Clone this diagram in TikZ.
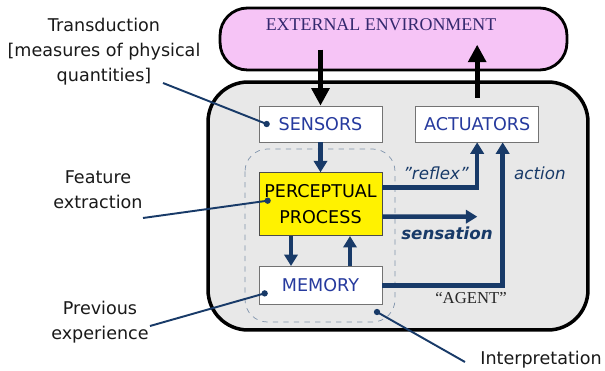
\documentclass[tikz,border=0pt]{standalone}
\usepackage{fontspec}
\setmainfont{DejaVu Sans}
\newfontfamily\envserif{Liberation Serif}
\usetikzlibrary{arrows.meta, positioning, calc}
\definecolor{navy}{RGB}{24,58,104}
\definecolor{unitblue}{RGB}{38,58,158}
\definecolor{envpink}{RGB}{246,196,246}
\definecolor{envtext}{RGB}{52,40,110}
\definecolor{shellgray}{RGB}{232,232,232}

\begin{document}
\begin{tikzpicture}[
    x=0.02cm, y=-0.02cm,
    shell/.style={rectangle, draw, line width=2pt, fill=shellgray, rounded corners=0.8cm, minimum width=7.6cm, minimum height=4.96cm},
    envbox/.style={rectangle, draw, line width=1.6pt, fill=envpink, rounded corners=0.55cm, minimum width=6.94cm, minimum height=1.24cm},
    unit/.style={rectangle, draw=black!55, fill=white, minimum width=2.46cm, minimum height=0.72cm, inner xsep=1pt, font=\fontsize{10}{12}\selectfont, text=unitblue},
    process/.style={unit, fill=yellow, draw=black!70, text=black, align=center, minimum height=1.26cm, font=\fontsize{10}{15}\selectfont},
    bigflow/.style={line width=2.8pt, -{Triangle[width=10pt,length=10pt]}},
    flow/.style={navy, line width=2.6pt, -{Triangle[width=7.5pt,length=6.5pt]}},
    callout/.style={navy, line width=1.1pt},
    note/.style={align=center, font=\fontsize{10}{14.2}\selectfont, text=black!90},
    tag/.style={text=navy, font=\fontsize{9.5}{11}\selectfont\itshape}
]
\useasboundingbox (0,0) rectangle (605,371);

% outer frames
\node[shell] (shell) at (398,206) {};
\node[envbox] (env) at (393.5,39) {};
\node[font=\envserif\fontsize{10.2}{12}\selectfont, text=envtext] (envlabel) at (381,25) {EXTERNAL ENVIRONMENT};

% dashed interpretation region
\draw[dashed, navy!55, rounded corners=0.45cm] (245,149) rectangle (395,322);

% units
\node[unit] (sensors) at (320.5,124) {SENSORS};
\node[unit, right=0.66cm of sensors] (actuators) {ACTUATORS};
\node[process, below=0.6cm of sensors] (perceptual) {PERCEPTUAL\\PROCESS};
\node[unit, below=0.6cm of perceptual, minimum height=0.76cm] (memory) {MEMORY};

% environment flows
\draw[bigflow] ($(sensors.north)+(0,-56)$) -- (sensors.north);
\draw[bigflow] ($(actuators.north)+(0,-8)$) -- ($(actuators.north)+(0,-61)$);

% internal flows
\coordinate (sensation end) at ($(perceptual.east)+(95,12.5)$);
\draw[flow] (sensors) -- (perceptual);
\draw[flow] ([xshift=-0.59cm]perceptual.south) -- ([xshift=-0.59cm]memory.north);
\draw[flow] ([xshift=0.59cm]memory.north) -- ([xshift=0.59cm]perceptual.south);
\draw[flow] ([yshift=0.33cm]perceptual.east) -| (actuators.south);
\draw[flow] ([yshift=-0.25cm]perceptual.east) -- (sensation end);
\draw[flow] (memory.east) -| ([xshift=0.51cm]actuators.south);

\node[tag, anchor=south] (reflexlabel) at (436,186) {"reflex"};
\node[tag, anchor=west] (actionlabel) at (508,173) {action};
\node[tag, font=\fontsize{9.5}{11}\selectfont\bfseries\itshape] (sensationlabel) at (447,233) {sensation};
\node[font=\envserif\fontsize{9.5}{11}\selectfont, text=black!85] (agentlabel) at (471,298) {“AGENT”};

% callouts
\node[note] (transduction) at (104,52) {Transduction\\{[}measures of physical\\quantities{]}};
\node[note] (feature) at (98,190) {Feature\\extraction};
\node[note] (previous) at (100,322) {Previous\\experience};
\node[note] (interpretation) at (541,360) {Interpretation};

\coordinate (transduction end) at (163,83);
\coordinate (feature end) at (143,218);
\coordinate (previous end) at (150,326);
\coordinate (interpretation end) at (465,362);
\coordinate (sensdot) at ($(sensors.west)+(8,0)$);
\coordinate (percdot) at ($(perceptual.west)+(9,-3.5)$);
\coordinate (memdot) at ($(memory.west)+(6,8)$);
\coordinate (regiondot) at (377,312);

\draw[callout] (transduction end) -- (sensdot);
\draw[callout] (feature end) -- (percdot);
\draw[callout] (previous end) -- (memdot);
\draw[callout] (interpretation end) -- (regiondot);
\foreach \d in {sensdot, percdot, memdot, regiondot}
  \fill[navy] (\d) circle (1.8pt);

\end{tikzpicture}
\end{document}
